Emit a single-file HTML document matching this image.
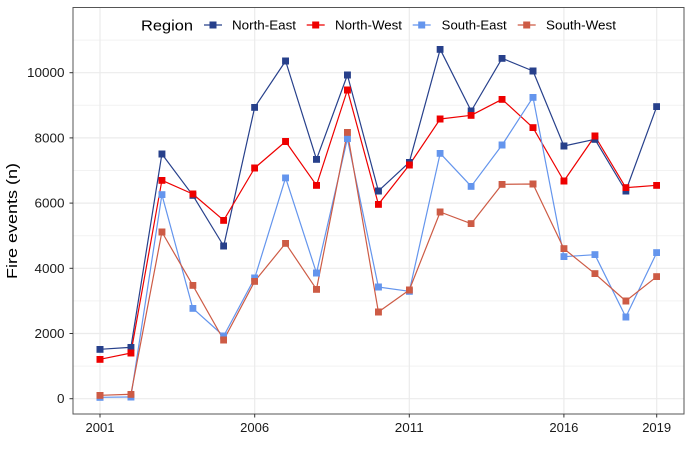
<!DOCTYPE html>
<html><head><meta charset="utf-8"><style>
html,body{margin:0;padding:0;background:#fff;}
svg{display:block;font-family:"Liberation Sans",Arial,sans-serif;}
</style></head><body>
<svg width="693" height="450" viewBox="0 0 693 450" xmlns="http://www.w3.org/2000/svg">
<defs>
<marker id="mNE" markerWidth="7" markerHeight="7" refX="3.5" refY="3.5" markerUnits="userSpaceOnUse"><rect width="7" height="7" fill="#27408B"/></marker>
<marker id="mNW" markerWidth="7" markerHeight="7" refX="3.5" refY="3.5" markerUnits="userSpaceOnUse"><rect width="7" height="7" fill="#EE0000"/></marker>
<marker id="mSE" markerWidth="7" markerHeight="7" refX="3.5" refY="3.5" markerUnits="userSpaceOnUse"><rect width="7" height="7" fill="#6495ED"/></marker>
<marker id="mSW" markerWidth="7" markerHeight="7" refX="3.5" refY="3.5" markerUnits="userSpaceOnUse"><rect width="7" height="7" fill="#CD5B45"/></marker>
</defs>
<rect x="0" y="0" width="693" height="450" fill="#fff"/>
<!-- minor grid -->
<g stroke="#F2F2F2" stroke-width="1">
<line x1="73" x2="684" y1="366.1" y2="366.1"/>
<line x1="73" x2="684" y1="300.9" y2="300.9"/>
<line x1="73" x2="684" y1="235.7" y2="235.7"/>
<line x1="73" x2="684" y1="170.5" y2="170.5"/>
<line x1="73" x2="684" y1="105.3" y2="105.3"/>
<line x1="73" x2="684" y1="40.1" y2="40.1"/>
</g>
<!-- major grid -->
<g stroke="#EBEBEB" stroke-width="1.2">
<line x1="73" x2="684" y1="398.7" y2="398.7"/>
<line x1="73" x2="684" y1="333.5" y2="333.5"/>
<line x1="73" x2="684" y1="268.3" y2="268.3"/>
<line x1="73" x2="684" y1="203.1" y2="203.1"/>
<line x1="73" x2="684" y1="137.9" y2="137.9"/>
<line x1="73" x2="684" y1="72.7" y2="72.7"/>
<line y1="7.5" y2="414" x1="100" x2="100"/>
<line y1="7.5" y2="414" x1="254.7" x2="254.7"/>
<line y1="7.5" y2="414" x1="409.3" x2="409.3"/>
<line y1="7.5" y2="414" x1="563.9" x2="563.9"/>
<line y1="7.5" y2="414" x1="656.7" x2="656.7"/>
</g>
<!-- lines -->
<g fill="none" stroke-width="1.2" stroke-linejoin="round">
<polyline stroke="#27408B" points="100,349.3 130.9,347.3 161.9,154 192.8,195.3 223.7,246 254.7,107.3 285.6,61 316.5,159.3 347.4,75 378.4,191 409.3,162.3 440.2,49.3 471.2,111 502.1,58.3 533,71 563.9,146 594.9,139.3 625.8,191 656.7,106.7"/>
<polyline stroke="#EE0000" points="100,359.3 130.9,353 161.9,180.3 192.8,194 223.7,220.3 254.7,168 285.6,141.5 316.5,185.3 347.4,90 378.4,204.3 409.3,165 440.2,119 471.2,115.3 502.1,99.3 533,127.7 563.9,181 594.9,136 625.8,187.7 656.7,185.3"/>
<polyline stroke="#6495ED" points="100,397.3 130.9,397 161.9,194.7 192.8,308.3 223.7,336 254.7,278 285.6,177.8 316.5,273 347.4,138.7 378.4,287 409.3,291.3 440.2,153.3 471.2,186.3 502.1,145 533,97.3 563.9,256.7 594.9,254.7 625.8,317 656.7,252.7"/>
<polyline stroke="#CD5B45" points="100,395.3 130.9,394.3 161.9,232 192.8,285.3 223.7,340 254.7,281.3 285.6,243.3 316.5,289.3 347.4,132.3 378.4,312 409.3,290 440.2,212 471.2,223.7 502.1,184.3 533,184 563.9,248.7 594.9,273.7 625.8,301 656.7,276.7"/>
</g>
<!-- points -->
<g fill="none" stroke="none">
<polyline marker-start="url(#mNE)" marker-mid="url(#mNE)" marker-end="url(#mNE)" points="100,349.3 130.9,347.3 161.9,154 192.8,195.3 223.7,246 254.7,107.3 285.6,61 316.5,159.3 347.4,75 378.4,191 409.3,162.3 440.2,49.3 471.2,111 502.1,58.3 533,71 563.9,146 594.9,139.3 625.8,191 656.7,106.7"/>
<polyline marker-start="url(#mNW)" marker-mid="url(#mNW)" marker-end="url(#mNW)" points="100,359.3 130.9,353 161.9,180.3 192.8,194 223.7,220.3 254.7,168 285.6,141.5 316.5,185.3 347.4,90 378.4,204.3 409.3,165 440.2,119 471.2,115.3 502.1,99.3 533,127.7 563.9,181 594.9,136 625.8,187.7 656.7,185.3"/>
<polyline marker-start="url(#mSE)" marker-mid="url(#mSE)" marker-end="url(#mSE)" points="100,397.3 130.9,397 161.9,194.7 192.8,308.3 223.7,336 254.7,278 285.6,177.8 316.5,273 347.4,138.7 378.4,287 409.3,291.3 440.2,153.3 471.2,186.3 502.1,145 533,97.3 563.9,256.7 594.9,254.7 625.8,317 656.7,252.7"/>
<polyline marker-start="url(#mSW)" marker-mid="url(#mSW)" marker-end="url(#mSW)" points="100,395.3 130.9,394.3 161.9,232 192.8,285.3 223.7,340 254.7,281.3 285.6,243.3 316.5,289.3 347.4,132.3 378.4,312 409.3,290 440.2,212 471.2,223.7 502.1,184.3 533,184 563.9,248.7 594.9,273.7 625.8,301 656.7,276.7"/>
</g>
<!-- panel border -->
<rect x="73" y="7.5" width="611" height="406.5" fill="none" stroke="#555" stroke-width="1"/>
<!-- ticks -->
<g stroke="#333" stroke-width="1">
<line x1="69.5" x2="73" y1="398.7" y2="398.7"/>
<line x1="69.5" x2="73" y1="333.5" y2="333.5"/>
<line x1="69.5" x2="73" y1="268.3" y2="268.3"/>
<line x1="69.5" x2="73" y1="203.1" y2="203.1"/>
<line x1="69.5" x2="73" y1="137.9" y2="137.9"/>
<line x1="69.5" x2="73" y1="72.7" y2="72.7"/>
<line y1="414" y2="417.5" x1="100" x2="100"/>
<line y1="414" y2="417.5" x1="254.7" x2="254.7"/>
<line y1="414" y2="417.5" x1="409.3" x2="409.3"/>
<line y1="414" y2="417.5" x1="563.9" x2="563.9"/>
<line y1="414" y2="417.5" x1="656.7" x2="656.7"/>
</g>
<!-- y tick labels -->
<g fill="#1a1a1a" font-size="13" text-anchor="end">
<text x="64.5" y="403.2" textLength="7.5" lengthAdjust="spacingAndGlyphs">0</text>
<text x="64.5" y="338" textLength="30" lengthAdjust="spacingAndGlyphs">2000</text>
<text x="64.5" y="272.8" textLength="30" lengthAdjust="spacingAndGlyphs">4000</text>
<text x="64.5" y="207.6" textLength="30" lengthAdjust="spacingAndGlyphs">6000</text>
<text x="64.5" y="142.4" textLength="30" lengthAdjust="spacingAndGlyphs">8000</text>
<text x="64.5" y="77.2" textLength="37.5" lengthAdjust="spacingAndGlyphs">10000</text>
</g>
<!-- x tick labels -->
<g fill="#1a1a1a" font-size="13" text-anchor="middle">
<text x="100" y="432" textLength="29" lengthAdjust="spacingAndGlyphs">2001</text>
<text x="254.7" y="432" textLength="29" lengthAdjust="spacingAndGlyphs">2006</text>
<text x="409.3" y="432" textLength="29" lengthAdjust="spacingAndGlyphs">2011</text>
<text x="563.9" y="432" textLength="29" lengthAdjust="spacingAndGlyphs">2016</text>
<text x="656.7" y="432" textLength="29" lengthAdjust="spacingAndGlyphs">2019</text>
</g>
<!-- y title -->
<text transform="translate(17,221) rotate(-90)" text-anchor="middle" font-size="14.5" fill="#000" textLength="116" lengthAdjust="spacingAndGlyphs">Fire events (n)</text>
<!-- legend -->
<text x="141" y="30.4" font-size="14.5" fill="#000" textLength="52" lengthAdjust="spacingAndGlyphs">Region</text>
<g stroke-width="1.2">
<line x1="204" x2="222" y1="25" y2="25" stroke="#27408B"/>
<line x1="306.7" x2="324.7" y1="25" y2="25" stroke="#EE0000"/>
<line x1="412.7" x2="430.7" y1="25" y2="25" stroke="#6495ED"/>
<line x1="517.7" x2="535.7" y1="25" y2="25" stroke="#CD5B45"/>
</g>
<rect x="209.5" y="21.5" width="7" height="7" fill="#27408B"/>
<rect x="312.2" y="21.5" width="7" height="7" fill="#EE0000"/>
<rect x="418.2" y="21.5" width="7" height="7" fill="#6495ED"/>
<rect x="523.2" y="21.5" width="7" height="7" fill="#CD5B45"/>
<g font-size="12.5" fill="#000">
<text x="232" y="29.5" textLength="64" lengthAdjust="spacingAndGlyphs">North-East</text>
<text x="335" y="29.5" textLength="67" lengthAdjust="spacingAndGlyphs">North-West</text>
<text x="441.7" y="29.5" textLength="65" lengthAdjust="spacingAndGlyphs">South-East</text>
<text x="546" y="29.5" textLength="70" lengthAdjust="spacingAndGlyphs">South-West</text>
</g>
</svg>
</body></html>
